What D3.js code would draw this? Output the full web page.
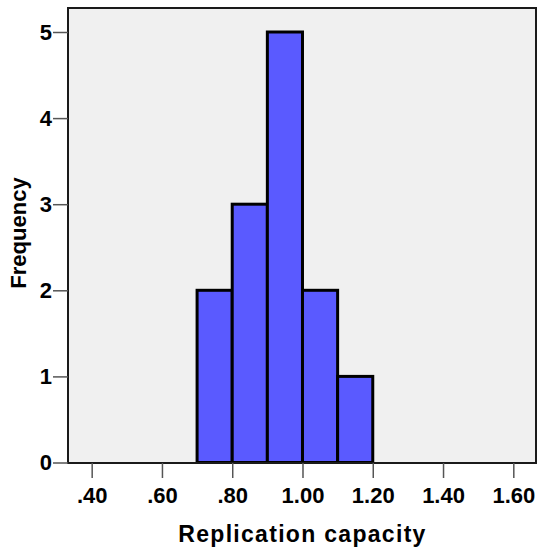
<!DOCTYPE html>
<html><head><meta charset="utf-8">
<script src="https://cdn.jsdelivr.net/npm/d3@7"></script>
<style>body{margin:0;background:#fff}</style>
</head><body>
<svg id="c" width="540" height="553"></svg>
<script>
const binStarts = [0.7, 0.8, 0.9, 1.0, 1.1];
const binWidth = 0.1;
const frequencies = [2, 3, 5, 2, 1];
const xTicks = [0.4, 0.6, 0.8, 1.0, 1.2, 1.4, 1.6];
const yTicks = [0, 1, 2, 3, 4, 5];
const xLabel = "Replication capacity";
const yLabel = "Frequency";

const svg = d3.select("#c");
const L = 68, R = 536, T = 8, B = 463;
const x = d3.scaleLinear().domain([0.3326, 1.6646]).range([L, R]);
const y = d3.scaleLinear().domain([0, 5]).range([462.5, 32]);

svg.append("rect").attr("x", L).attr("y", T).attr("width", R - L).attr("height", B - T)
  .attr("fill", "#f0f0f0");

svg.append("g").selectAll("rect").data(binStarts).join("rect")
  .attr("x", d => x(d)).attr("y", (d, i) => y(frequencies[i]))
  .attr("width", d => x(d + binWidth) - x(d))
  .attr("height", (d, i) => y(0) - y(frequencies[i]))
  .attr("fill", "#5a5aff").attr("stroke", "#000").attr("stroke-width", 3);

svg.append("rect").attr("x", L).attr("y", T).attr("width", R - L).attr("height", B - T)
  .attr("fill", "none").attr("stroke", "#1a1a1a").attr("stroke-width", 2);

const fmtX = v => { const s = v.toFixed(2); return s.startsWith("0") ? s.slice(1) : s; };
const xAxis = svg.append("g").attr("transform", `translate(0,${B})`)
  .call(d3.axisBottom(x).tickValues(xTicks).tickFormat(fmtX).tickSize(15).tickPadding(9));
const yAxis = svg.append("g").attr("transform", `translate(${L},0)`)
  .call(d3.axisLeft(y).tickValues(yTicks).tickFormat(d3.format("d")).tickSize(15).tickPadding(1));
[xAxis, yAxis].forEach(g => {
  g.select(".domain").remove();
  g.selectAll("line").attr("stroke", "#555").attr("stroke-width", 1.5);
  g.selectAll("text").attr("fill", "#000").style("font-family", "Liberation Sans, Arial, sans-serif")
    .style("font-weight", "bold").style("font-size", "22px");
});

svg.append("text").attr("x", 302.5).attr("y", 541.5).attr("text-anchor", "middle")
  .style("font-family", "Liberation Sans, Arial, sans-serif").style("font-weight", "bold")
  .style("font-size", "23px").style("letter-spacing", "1.3px").text(xLabel);
svg.append("text").attr("transform", "translate(25.5,233) rotate(-90)").attr("text-anchor", "middle")
  .style("font-family", "Liberation Sans, Arial, sans-serif").style("font-weight", "bold")
  .style("font-size", "22px").text(yLabel);
</script>
</body></html>
